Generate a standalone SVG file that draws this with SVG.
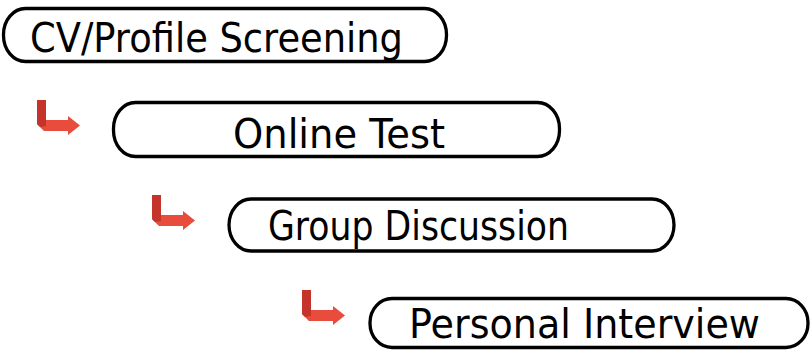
<svg xmlns="http://www.w3.org/2000/svg" xmlns:xlink="http://www.w3.org/1999/xlink" width="811" height="352" viewBox="0 0 811 352">
<style>
.box{fill:#fff;stroke:#000;stroke-width:3.3}
.lbl{font-family:"DejaVu Sans","Liberation Sans",sans-serif;font-size:41px;fill:#000}
.a1{fill:#e84c3d}
.a2{fill:#c4342a}
</style>
<defs>
<g id="arr">
<path class="a1" d="M0,0 H9 V20 H31 V16 L43,25.5 L31,35 V31 H7 L0,24 Z"/>
<path class="a2" d="M0,0 H9 V20 L9,26 L3,27 L0,24 Z"/>
</g>
</defs>
<rect width="811" height="352" fill="#fff"/>
<g id="connectors">
<use xlink:href="#arr" href="#arr" transform="translate(37,100)"/>
<use xlink:href="#arr" href="#arr" transform="translate(152,195)"/>
<use xlink:href="#arr" href="#arr" transform="translate(302,290)"/>
</g>
<g id="node-cv">
<rect class="box" x="3.5" y="8.5" width="443" height="53" rx="22" ry="26"/>
<text class="lbl" x="30" y="52" textLength="373" lengthAdjust="spacingAndGlyphs">CV/Profile Screening</text>
</g>
<g id="node-online">
<rect class="box" x="113.5" y="102.5" width="446" height="54" rx="22" ry="26"/>
<text class="lbl" x="233" y="148" textLength="212" lengthAdjust="spacingAndGlyphs">Online Test</text>
</g>
<g id="node-gd">
<rect class="box" x="229" y="199" width="445" height="52" rx="22" ry="26"/>
<text class="lbl" x="268" y="240" textLength="301" lengthAdjust="spacingAndGlyphs">Group Discussion</text>
</g>
<g id="node-pi">
<rect class="box" x="370" y="298.5" width="438" height="49" rx="22" ry="24"/>
<text class="lbl" x="409" y="338" textLength="351" lengthAdjust="spacingAndGlyphs">Personal Interview</text>
</g>
</svg>
